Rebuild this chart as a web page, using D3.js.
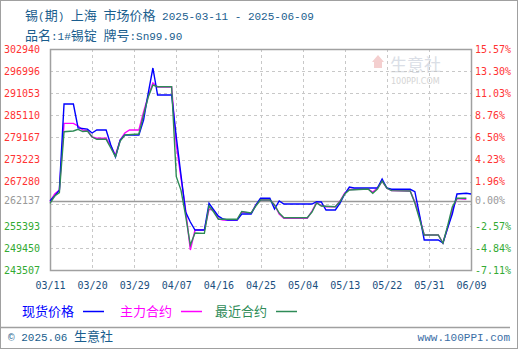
<!DOCTYPE html>
<html>
<head>
<meta charset="utf-8">
<script src="https://cdn.jsdelivr.net/npm/d3@7"></script>
<style>
  body { margin: 0; background: #fff; }
  svg { display: block; }
</style>
</head>
<body>
<div id="chart"></div>
<script>
// ---- data ----
const basePrice = 262137
const yMin = 243507, yMax = 302940
const yLabels = ["302940","296996","291053","285110","279167","273223","267280","262137","255393","249450","243507"]
const pctLabels = ["15.57%","13.30%","11.03%","8.76%","6.50%","4.23%","1.96%","0.00%","-2.57%","-4.84%","-7.11%"]
const xLabels = ["03/11","03/20","03/29","04/07","04/16","04/25","05/04","05/13","05/22","05/31","06/09"]

const spotDates = ["03-11","03-12","03-13","03-14","03-16","03-17","03-19","03-20","03-21","03-23","03-24","03-25","03-26","03-27","03-30","03-31","04-01","04-02","04-03","04-06","04-07","04-08","04-09","04-10","04-11","04-13","04-14","04-15","04-16","04-17","04-18","04-20","04-21","04-23","04-24","04-25","04-27","04-28","04-29","04-30","05-06","05-07","05-08","05-09","05-11","05-12","05-13","05-14","05-15","05-20","05-21","05-22","05-23","05-27","05-28","05-29","05-30","06-02","06-03","06-04","06-05","06-06","06-08","06-09"]
const spotValues = [262137,263400,265000,288150,288150,281700,281400,280350,281150,281150,277120,273900,278470,279810,279810,283850,291100,297830,290570,290570,279270,269060,259100,256420,254260,254260,261440,259640,257990,257220,256950,256950,258570,258570,260990,262790,262790,259910,262060,261250,261250,261870,261800,259640,259640,261520,263950,265830,265560,265560,267980,265560,265210,265210,264560,258300,251580,251580,250770,254800,258570,263950,264130,263950]

const mainDates = ["03-11","03-12","03-13","03-14","03-16","03-17","03-18","03-19","03-20","03-21","03-23","03-24","03-25","03-26","03-27","03-28","03-30","03-31","04-01","04-02","04-03","04-06","04-07","04-08","04-09","04-10","04-11","04-13","04-14","04-15","04-16","04-17","04-20","04-21","04-23","04-24","04-25","04-27","04-28","04-29","04-30","05-05","05-06","05-07","05-08","05-09","05-11","05-12","05-13","05-14","05-18","05-19","05-20","05-21","05-22","05-23","05-27","05-28","05-29","05-30","06-02","06-03","06-04","06-05","06-06","06-08"]
const mainValues = [261900,263950,265020,282950,282950,282230,281160,281020,279270,278930,278930,276850,274430,278470,280350,281160,281160,286000,290300,293800,292720,292720,277120,268250,259640,248890,254260,254260,259830,259640,257220,256950,256950,259100,258770,260990,262330,262330,260990,258570,257410,257410,259370,261660,260850,260530,260530,262060,264210,265160,265290,264480,265560,267440,265560,264840,264750,261800,257760,252920,252920,250770,254800,259640,262730,262520]

const nearDates = ["03-11","03-12","03-13","03-14","03-16","03-17","03-18","03-19","03-20","03-21","03-23","03-24","03-25","03-26","03-27","03-30","03-31","04-01","04-02","04-03","04-06","04-07","04-08","04-09","04-10","04-11","04-13","04-14","04-15","04-16","04-20","04-21","04-23","04-24","04-25","04-27","04-28","04-29","04-30","05-05","05-06","05-07","05-08","05-11","05-12","05-13","05-14","05-18","05-19","05-20","05-21","05-22","05-23","05-27","05-28","05-29","05-30","06-02","06-03","06-04","06-05","06-06","06-08"]
const nearValues = [261450,263400,264300,280700,280890,281340,280750,280890,279270,278650,278650,276320,273980,278200,279810,280080,285190,290030,293260,292800,292800,268600,265000,258030,250230,253460,253370,260720,259100,257140,257140,259240,258840,260720,262330,262330,260990,258840,257570,257570,259100,261530,260720,260530,261930,263950,265020,265290,264130,265290,267440,265560,264840,264750,261530,257220,252920,252920,250690,255340,260450,262790,262790]

const seriesNames = ["现货价格","主力合约","最近合约"]
const seriesColors = ["#0000ff","#ff00ff","#2e8b57"]

// ---- layout ----
const W = 520, H = 350
const margin = {top: 49, right: 49, bottom: 80, left: 50}
const innerW = W - margin.left - margin.right
const innerH = H - margin.top - margin.bottom
const monoFont = "'DejaVu Sans Mono', 'Liberation Mono', monospace"

const parse = s => d3.timeParse("%Y-%m-%d")("2025-" + s)

const svg = d3.select("#chart").append("svg")
  .attr("width", W).attr("height", H)

// outer frame
svg.append("rect")
  .attr("x", 0.5).attr("y", 0.5).attr("width", W - 3).attr("height", H - 2)
  .attr("fill", "none").attr("stroke", "#a0a0a0")

// mixed ascii/cjk text, like the bitmap font of the original
function mixText(g, str, color) {
  const runs = str.match(/[\u0000-\u00ff]+|[^\u0000-\u00ff]+/g)
  runs.forEach(r => {
    const ascii = /^[\u0000-\u00ff]+$/.test(r)
    g.append("tspan")
      .attr("font-family", ascii ? "'Liberation Mono', 'DejaVu Sans Mono', monospace" : "'Noto Sans CJK SC', sans-serif")
      .attr("font-size", ascii ? "11px" : "13px")
      .attr("fill", color)
      .text(r)
  })
  return g
}

mixText(svg.append("text").attr("x", 25).attr("y", 20).attr("xml:space", "preserve"),
  "锡(期) 上海 市场价格 2025-03-11 - 2025-06-09", "#1a5e8e")
mixText(svg.append("text").attr("x", 25).attr("y", 40).attr("xml:space", "preserve"),
  "品名:1#锡锭 牌号:Sn99.90", "#1a5e8e")

const x = d3.scaleTime()
  .domain([parse("03-11"), parse("06-09")])
  .range([margin.left, margin.left + innerW])

const y = d3.scaleLinear()
  .domain([yMin, yMax])
  .range([margin.top + innerH, margin.top])

// watermark
const wm = svg.append("g").attr("opacity", 0.9)
wm.append("path")
  .attr("d", "M372,62 L378,55 L384,62 Z M374,62 h8 v6 h-8 Z")
  .attr("fill", "#f3caca")
wm.append("text").attr("x", 390).attr("y", 71)
  .attr("font-family", "'Noto Sans CJK SC', sans-serif").attr("font-size", "17px")
  .attr("fill", "#d6dbe4").text("生意社")
wm.append("text").attr("x", 391).attr("y", 84)
  .attr("font-family", "'DejaVu Sans', sans-serif").attr("font-size", "8px")
  .attr("fill", "#d0d0d0").text("100PPI.COM")

// grid
const gridVals = d3.range(11).map(i => yMin + i * (yMax - yMin) / 10)
svg.append("g").selectAll("line")
  .data(gridVals.slice(1, 10))
  .join("line")
  .attr("x1", margin.left).attr("x2", margin.left + innerW)
  .attr("y1", d => Math.round(y(d)) + 0.5).attr("y2", d => Math.round(y(d)) + 0.5)
  .attr("stroke", "#c8c8c8").attr("stroke-dasharray", "3,3")

const xTickDates = xLabels.map(s => parse(s.replace("/", "-")))
svg.append("g").selectAll("line")
  .data(xTickDates.slice(1, xTickDates.length - 1))
  .join("line")
  .attr("x1", d => Math.round(x(d)) + 0.5).attr("x2", d => Math.round(x(d)) + 0.5)
  .attr("y1", margin.top).attr("y2", margin.top + innerH)
  .attr("stroke", "#c8c8c8").attr("stroke-dasharray", "3,3")

// base line
svg.append("line")
  .attr("x1", margin.left).attr("x2", margin.left + innerW)
  .attr("y1", Math.round(y(basePrice)) + 0.5).attr("y2", Math.round(y(basePrice)) + 0.5)
  .attr("stroke", "#9a9a9a").attr("stroke-width", 1.5)

// frame of plot
svg.append("rect")
  .attr("x", margin.left + 0.5).attr("y", margin.top + 0.5)
  .attr("width", innerW).attr("height", innerH)
  .attr("fill", "none").attr("stroke", "#a0a0a0").attr("stroke-width", 1.5)

// y axes: tick values from labels, the 0% one sits on the base price
const tickVals = yLabels.map(Number)
const colorFor = v => v > basePrice ? "#ff3333" : (v < basePrice ? "#33aa33" : "#999999")

const yLeft = svg.append("g")
  .attr("transform", `translate(${margin.left - 7},0)`)
  .call(d3.axisLeft(y).tickValues(tickVals).tickSize(0).tickFormat(d => d))
yLeft.select(".domain").remove()
yLeft.selectAll("text")
  .attr("font-family", monoFont).attr("font-size", "10px")
  .attr("fill", d => colorFor(d))

const yRight = svg.append("g")
  .attr("transform", `translate(${margin.left + innerW + 1},0)`)
  .call(d3.axisRight(y).tickValues(tickVals).tickSize(0)
    .tickFormat((d, i) => pctLabels[i]))
yRight.select(".domain").remove()
yRight.selectAll("text")
  .attr("font-family", monoFont).attr("font-size", "10px")
  .attr("fill", d => colorFor(d))

// x axis
const xAxis = svg.append("g")
  .attr("transform", `translate(0,${margin.top + innerH + 9})`)
  .call(d3.axisBottom(x).tickValues(xTickDates).tickSize(0)
    .tickFormat((d, i) => xLabels[i]))
xAxis.select(".domain").remove()
xAxis.selectAll("text")
  .attr("font-family", monoFont).attr("font-size", "10px")
  .attr("fill", "#1b4f80")

// series
const line = d3.line().x(d => x(d.date)).y(d => y(d.value))
const toPts = (dates, vals) => dates.map((s, i) => ({date: parse(s), value: vals[i]}))
const seriesData = [
  toPts(spotDates, spotValues),
  toPts(mainDates, mainValues),
  toPts(nearDates, nearValues)
]
const drawOrder = [1, 0, 2]
drawOrder.forEach(k => {
  svg.append("path")
    .datum(seriesData[k])
    .attr("d", line)
    .attr("fill", "none")
    .attr("stroke", seriesColors[k])
    .attr("stroke-width", 1.4)
})

// legend
const legendX = [22, 120, 215]
seriesNames.forEach((name, i) => {
  const t = svg.append("text").attr("x", legendX[i]).attr("y", 316)
  mixText(t, name, seriesColors[i])
  const w = t.node().getComputedTextLength()
  svg.append("line")
    .attr("x1", legendX[i] + w + 9).attr("x2", legendX[i] + w + 30)
    .attr("y1", 311.5).attr("y2", 311.5)
    .attr("stroke", seriesColors[i]).attr("stroke-width", 1.5)
})

// footer
svg.append("line")
  .attr("x1", 0).attr("x2", 510).attr("y1", 327.5).attr("y2", 327.5)
  .attr("stroke", "#a0a0a0").attr("stroke-width", 1.5)
mixText(svg.append("text").attr("x", 8).attr("y", 341).attr("xml:space", "preserve"),
  "© 2025.06 生意社", "#1a5e8e")
svg.append("text").attr("x", 510).attr("y", 341).attr("text-anchor", "end")
  .attr("font-family", "'Liberation Mono', monospace").attr("font-size", "11px")
  .attr("fill", "#3a6ea5").text("www.100PPI.com")
</script>
</body>
</html>
